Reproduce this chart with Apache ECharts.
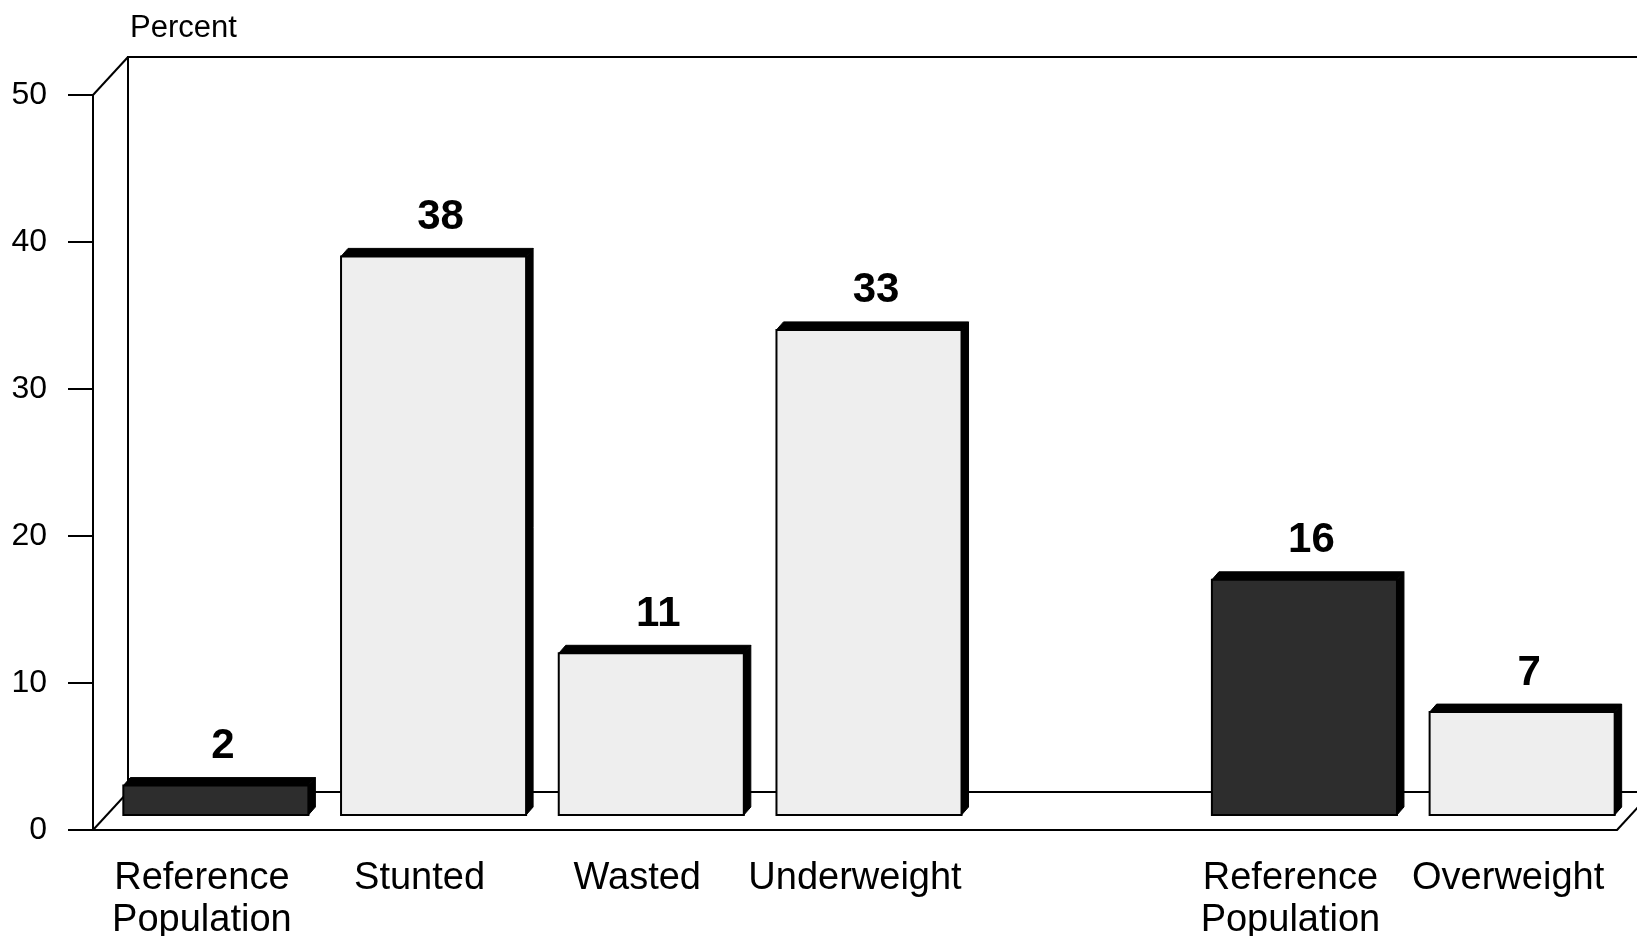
<!DOCTYPE html>
<html>
<head>
<meta charset="utf-8">
<script src="https://cdn.jsdelivr.net/npm/echarts@6/dist/echarts.min.js"></script>
<style>
html,body{margin:0;padding:0;background:#fff;}
#chart{width:1637px;height:936px;}
</style>
</head>
<body>
<div id="chart"></div>
<script>
// ---- data ----
const categories = ['Reference\nPopulation', 'Stunted', 'Wasted', 'Underweight', '', 'Reference\nPopulation', 'Overweight'];
const values = [2, 38, 11, 33, null, 16, 7];
const isReference = [true, false, false, false, false, true, false];
const yTicks = [0, 10, 20, 30, 40, 50];
const yAxisTitle = 'Percent';

// ---- layout ----
const FONT = '"Liberation Sans", Arial, Helvetica, sans-serif';
const W = 1524, H = 735;
const front = { left: 93, top: 95 };
const mid = { left: 107, top: 80 };
const back = { left: 128, top: 57 };

const barData = [];
values.forEach((v, i) => { if (v !== null) barData.push([i, v, isReference[i] ? 1 : 0]); });

const chart = echarts.init(document.getElementById('chart'), null, { renderer: 'canvas' });

const option = {
  animation: false,
  backgroundColor: '#ffffff',
  title: {
    text: yAxisTitle, left: 125, top: 8,
    textStyle: { fontFamily: FONT, fontSize: 31, fontWeight: 'normal', color: '#000' }
  },
  grid: [
    { left: front.left, top: front.top, width: W, height: H, show: false, containLabel: false, outerBoundsMode: 'none' },
    { left: mid.left, top: mid.top, width: W, height: H, show: false, containLabel: false, outerBoundsMode: 'none' },
    { left: back.left, top: back.top, width: W, height: H, show: true, borderColor: '#000', borderWidth: 2, backgroundColor: 'transparent', z: 0, containLabel: false, outerBoundsMode: 'none' }
  ],
  xAxis: [
    { gridIndex: 0, type: 'category', data: categories,
      axisLine: { show: true, lineStyle: { color: '#000', width: 2 } },
      axisTick: { show: false },
      axisLabel: { margin: 28, fontFamily: FONT, fontSize: 38, color: '#000', lineHeight: 42, interval: 0 },
      splitLine: { show: false } },
    { gridIndex: 1, type: 'category', data: categories, show: false },
    { gridIndex: 2, type: 'category', data: categories, show: false }
  ],
  yAxis: [
    { gridIndex: 0, type: 'value', min: 0, max: 50, interval: 10,
      axisLine: { show: true, lineStyle: { color: '#000', width: 2 } },
      axisTick: { show: true, length: 25, inside: false, lineStyle: { color: '#000', width: 2 } },
      axisLabel: { margin: 46, fontFamily: FONT, fontSize: 32, color: '#000',
        formatter: v => (yTicks.indexOf(v) >= 0 ? String(v) : '') },
      splitLine: { show: false } },
    { gridIndex: 1, type: 'value', min: 0, max: 50, interval: 10, show: false, splitLine: { show: false } },
    { gridIndex: 2, type: 'value', min: 0, max: 50, interval: 10, show: false, splitLine: { show: false } }
  ],
  graphic: [
    { type: 'line', z: 0, shape: { x1: front.left, y1: front.top, x2: back.left, y2: back.top }, style: { stroke: '#000', lineWidth: 2 } },
    { type: 'line', z: 0, shape: { x1: front.left, y1: front.top + H, x2: back.left, y2: back.top + H }, style: { stroke: '#000', lineWidth: 2 } },
    { type: 'line', z: 0, shape: { x1: front.left + W, y1: front.top + H, x2: back.left + W, y2: back.top + H }, style: { stroke: '#000', lineWidth: 2 } }
  ],
  series: [{
    type: 'custom',
    xAxisIndex: 1, yAxisIndex: 1,
    z: 5,
    data: barData,
    renderItem: function (params, api) {
      const i = api.value(0), v = api.value(1), ref = api.value(2);
      const top = api.coord([i, v]);
      const base = api.coord([i, 0]);
      const w = api.size([1, 0])[0] * 0.85;
      const x0 = top[0] - w / 2, x1 = top[0] + w / 2;
      const yT = top[1], yB = base[1];
      const d = 7, h = 8;
      return {
        type: 'group',
        children: [
          { type: 'polygon', shape: { points: [[x0, yT], [x0 + d, yT - h], [x1 + d, yT - h], [x1, yT]] },
            style: { fill: '#000', stroke: '#000', lineWidth: 1 } },
          { type: 'polygon', shape: { points: [[x1, yT], [x1 + d, yT - h], [x1 + d, yB - h], [x1, yB]] },
            style: { fill: '#000', stroke: '#000', lineWidth: 1 } },
          { type: 'rect', shape: { x: x0, y: yT, width: w, height: yB - yT },
            style: { fill: ref ? '#2d2d2d' : '#eeeeee', stroke: '#000', lineWidth: 2 } },
          { type: 'text', x: top[0] + 7, y: yT - 39,
            style: { text: String(v), fontFamily: FONT, fontSize: 42, fontWeight: 'bold', fill: '#000', align: 'center', verticalAlign: 'middle' } }
        ]
      };
    }
  }]
};

chart.setOption(option);
</script>
</body>
</html>
